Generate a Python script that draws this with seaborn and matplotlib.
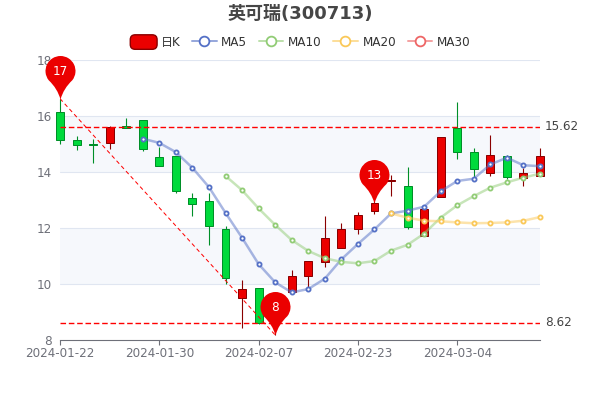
import pandas as pd
import seaborn as sns
from matplotlib import pyplot as plt
from matplotlib.lines import Line2D
from matplotlib.patches import FancyBboxPatch, Patch
from matplotlib.legend_handler import HandlerPatch, HandlerTuple
from matplotlib.path import Path

sns.set_theme(style='white')
plt.rcParams['font.family'] = ['DejaVu Sans', 'Noto Sans CJK SC']

# data
dates = ['2024-01-22', '2024-01-23', '2024-01-24', '2024-01-25', '2024-01-26', '2024-01-29',
         '2024-01-30', '2024-01-31', '2024-02-01', '2024-02-02', '2024-02-05', '2024-02-06',
         '2024-02-07', '2024-02-08', '2024-02-19', '2024-02-20', '2024-02-21', '2024-02-22',
         '2024-02-23', '2024-02-26', '2024-02-27', '2024-02-28', '2024-02-29', '2024-03-01',
         '2024-03-04', '2024-03-05', '2024-03-06', '2024-03-07', '2024-03-08', '2024-03-11']
opens = [16.13, 15.13, 15.01, 15.04, 15.63, 15.87, 14.52, 14.58, 13.08, 12.95,
         11.96, 9.51, 9.85, 8.75, 9.73, 10.27, 10.80, 11.27, 11.95, 12.62,
         13.68, 13.50, 11.71, 13.11, 15.56, 14.70, 13.97, 14.58, 13.79, 13.86]
closes = [15.13, 14.96, 14.96, 15.62, 15.56, 14.81, 14.23, 13.33, 12.85, 12.07,
          10.20, 9.81, 8.62, 9.59, 10.27, 10.81, 11.63, 11.95, 12.46, 12.90,
          13.70, 12.04, 12.69, 15.24, 14.71, 14.09, 14.62, 13.83, 13.95, 14.56]
highs = [16.62, 15.29, 15.18, 15.63, 15.92, 15.87, 14.90, 14.58, 13.26, 13.24,
         12.07, 10.14, 9.85, 9.65, 10.51, 10.81, 12.44, 12.18, 12.57, 13.00,
         13.90, 14.17, 12.72, 15.24, 16.49, 14.84, 15.31, 14.60, 14.13, 14.84]
lows = [14.99, 14.77, 14.33, 14.82, 15.56, 14.76, 14.20, 13.24, 12.43, 11.38,
        10.00, 8.44, 8.57, 8.18, 9.73, 9.90, 10.60, 11.27, 11.79, 12.50,
        13.14, 11.95, 11.71, 13.11, 14.46, 13.83, 13.87, 13.76, 13.51, 13.86]

ma5 = [None, None, None, None, None, 15.19, 15.04, 14.71, 14.15, 13.46,
       12.54, 11.65, 10.71, 10.06, 9.70, 9.82, 10.19, 10.88, 11.43, 11.95,
       12.52, 12.62, 12.76, 13.31, 13.68, 13.76, 14.27, 14.51, 14.24, 14.21]
ma10 = [None, None, None, None, None, None, None, None, None, None,
        13.86, 13.35, 12.70, 12.11, 11.57, 11.18, 10.92, 10.79, 10.74, 10.82,
        11.19, 11.40, 11.80, 12.37, 12.81, 13.14, 13.44, 13.63, 13.80, 13.94]
ma20 = [None] * 20 + [12.52, 12.37, 12.26, 12.24, 12.20, 12.17, 12.18, 12.20, 12.26, 12.39]
ma30 = []

tick_idx = [0, 6, 12, 18, 24]
yticks = [8, 10, 12, 14, 16, 18]
max_line = 15.62
min_line = 8.62

red, red_dark = '#eb0000', '#8a0000'
green, green_dark = '#00da3c', '#008f28'
gray = '#6e7079'


def pin_marker():
    # teardrop with the tip at the origin, in pixels
    arc = Path.arc(-38, 218)
    verts = [(x * 15, y * 15 + 28.5) for x, y in arc.vertices]
    x0, y0 = verts[0]
    verts += [(-3, 11), (0, 0), (3, 11), (x0, y0), (x0, y0)]
    codes = list(arc.codes) + [Path.CURVE3, Path.CURVE3, Path.CURVE3, Path.CURVE3, Path.CLOSEPOLY]
    return Path(verts, codes)


def round_box(legend, orig_handle, xdescent, ydescent, width, height, fontsize):
    return FancyBboxPatch((-xdescent + 1.2, -ydescent + 1.2), width - 2.4, height - 2.4,
                          boxstyle='round,pad=2,rounding_size=3.5')


fig = plt.figure(figsize=(6, 4), dpi=100)
ax = fig.add_axes([60 / 600, 60 / 400, 480 / 600, 280 / 400])

ax.axhspan(10, 12, color='#f6f8fc', lw=0, zorder=0)
ax.axhspan(14, 16, color='#f6f8fc', lw=0, zorder=0)
for v in yticks[1:]:
    ax.axhline(v, color='#e0e6f1', lw=0.8, zorder=1)

# candles
xs = list(range(len(dates)))
for i in xs:
    up = closes[i] >= opens[i]
    edge = red_dark if up else green_dark
    ax.vlines(i, lows[i], highs[i], color=edge, lw=0.8, zorder=3, clip_on=False)
    ax.bar(i, abs(closes[i] - opens[i]), bottom=min(opens[i], closes[i]), width=0.48,
           color=red if up else green, edgecolor=edge, lw=0.72, zorder=3, clip_on=False)

# moving averages
ma_series = [('MA5', ma5, '#5470c6'), ('MA10', ma10, '#91cc75'),
             ('MA20', ma20, '#fac858'), ('MA30', ma30, '#ee6666')]
for name, vals, col in ma_series:
    if not vals:
        continue
    df = pd.DataFrame({'x': xs, 'y': vals}).dropna()
    sns.lineplot(data=df, x='x', y='y', color=col, alpha=0.5, lw=1.8, estimator=None,
                 ax=ax, zorder=4, legend=False, clip_on=False)
    sns.scatterplot(data=df, x='x', y='y', facecolor='white', edgecolor=col, linewidth=1.3,
                    s=9, ax=ax, zorder=5, legend=False, clip_on=False)

# mark lines
ax.axhline(max_line, color='#ff0000', lw=1, ls=(0, (4, 2)), zorder=5)
ax.axhline(min_line, color='#ff0000', lw=1, ls=(0, (4, 2)), zorder=5)
ax.plot([0, 13], [highs[0], lows[13]], color='#ff0000', lw=0.72, ls=(0, (4, 3)), zorder=5)
for v in [max_line, min_line]:
    ax.annotate(f'{v:.2f}', (29, v), xytext=(3.5, 0), textcoords='offset points', va='center',
                ha='left', fontsize=8.64, color='#444444', annotation_clip=False)

# pins
pin_x = [0, 13, 19]
pin_y = [highs[0], lows[13], closes[19]]
pin_txt = ['17', '8', '13']
sns.scatterplot(x=pin_x, y=pin_y, marker=pin_marker(), s=3924, color=red, linewidth=0,
                ax=ax, zorder=6, legend=False, clip_on=False)
for x, y, t in zip(pin_x, pin_y, pin_txt):
    ax.annotate(t, (x, y), xytext=(0, 19.5), textcoords='offset points', ha='center', va='center',
                fontsize=8.64, color='white', zorder=7, annotation_clip=False)

ax.set_xlim(0, 29)
ax.set_ylim(8, 18)
ax.set_xticks(tick_idx)
ax.set_xticklabels([dates[i] for i in tick_idx])
ax.set_yticks(yticks)
ax.set_xlabel('')
ax.set_ylabel('')
ax.tick_params(axis='both', labelsize=8.64, labelcolor=gray)
ax.tick_params(axis='x', length=3.6, width=0.8, color=gray, pad=1.5, bottom=True)
ax.tick_params(axis='y', length=0, pad=6)
for s in ['top', 'right', 'left']:
    ax.spines[s].set_visible(False)
ax.spines['bottom'].set_color(gray)
ax.spines['bottom'].set_linewidth(0.8)

# legend
handles = [Patch(facecolor=red, edgecolor=red_dark, lw=1)]
for name, vals, col in ma_series:
    handles.append((Line2D([], [], color=col, alpha=0.6, lw=1.44),
                    Line2D([], [], color=col, marker='o', ls='', mfc='white', mec=col, mew=1.3, ms=7)))
labels = ['日K'] + [m[0] for m in ma_series]
fig.legend(handles, labels, ncol=5, loc='center', bbox_to_anchor=(301 / 600, 1 - 42.5 / 400),
           frameon=False, fontsize=8.64, labelcolor='#333333', handlelength=2.05, handleheight=1.2,
           handletextpad=0.4, columnspacing=0.95, borderpad=0,
           handler_map={Patch: HandlerPatch(patch_func=round_box),
                        tuple: HandlerTuple(ndivide=1, pad=0)})

fig.text(300 / 600, 1 - 14 / 400, '英可瑞(300713)', ha='center', va='center', fontsize=12.96,
         fontweight='bold', color='#464646')

fig.savefig('out.png', dpi=100)
